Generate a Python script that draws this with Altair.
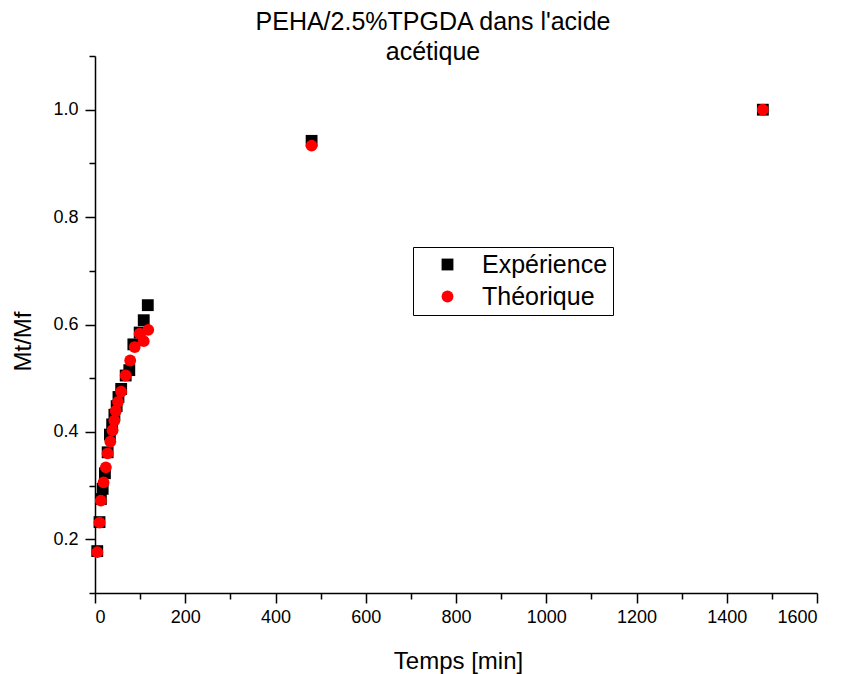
import altair as alt
import pandas as pd

# Swelling kinetics: measured and model fraction Mt/Mf versus time
temps_exp = [5, 10, 13, 17, 22, 28, 33, 38, 43, 48, 52, 58, 68, 76, 85, 99, 108, 117, 480, 1480]
mt_exp = [0.178, 0.232, 0.275, 0.294, 0.323, 0.362, 0.395, 0.414, 0.432, 0.448, 0.465, 0.480,
          0.505, 0.515, 0.563, 0.585, 0.608, 0.636, 0.942, 1.0]

temps_theo = [5, 10, 13, 19, 24, 28, 34, 39, 43, 46, 51, 58, 68, 78, 88, 99, 108, 118, 480, 1480]
mt_theo = [0.176, 0.231, 0.272, 0.306, 0.334, 0.360, 0.382, 0.403, 0.421, 0.439, 0.456, 0.475,
           0.505, 0.533, 0.558, 0.583, 0.569, 0.590, 0.933, 1.0]

series = ["Expérience", "Théorique"]
colors = ["#000000", "#ff0000"]
shapes = ["square", "circle"]

x_ticks = list(range(0, 1700, 100))
y_ticks = [round(0.1 * i, 1) for i in range(1, 12)]

df = pd.concat([
    pd.DataFrame({"t": temps_exp, "m": mt_exp, "serie": series[0]}),
    pd.DataFrame({"t": temps_theo, "m": mt_theo, "serie": series[1]}),
], ignore_index=True)

FONT = "Liberation Sans"

x_axis = alt.Axis(
    values=x_ticks,
    format="d",
    labelExpr="datum.value % 200 === 0 ? datum.label : ''",
    tickSize={"condition": {"test": "datum.value % 200 === 0", "value": 10}, "value": 6},
    labelPadding=5,
    labelFontSize=18,
    title="Temps [min]",
    titleFontSize=24,
    titleX=363,
    titleY=68,
    titleBaseline="middle",
    titleAlign="center",
    grid=False,
)

y_axis = alt.Axis(
    values=y_ticks,
    format=".1f",
    labelExpr="round(datum.value * 10) % 2 === 0 && datum.value < 1.05 && datum.value > 0.15 ? datum.label : ''",
    tickSize={"condition": {"test": "round(datum.value * 10) % 2 === 0", "value": 10}, "value": 6},
    labelPadding=7,
    labelFontSize=18,
    title="Mt/Mf",
    titleFontSize=24,
    titleX=-72,
    titleY=285,
    titleBaseline="middle",
    titleAlign="center",
    grid=False,
)

points = alt.Chart(df).mark_point(filled=True, opacity=1, size=140, strokeWidth=0).encode(
    x=alt.X("t:Q", scale=alt.Scale(domain=[0, 1600], nice=False, zero=False), axis=x_axis),
    y=alt.Y("m:Q", scale=alt.Scale(domain=[0.1, 1.1], nice=False, zero=False), axis=y_axis),
    color=alt.Color(
        "serie:N",
        scale=alt.Scale(domain=series, range=colors),
        legend=alt.Legend(
            title=None,
            orient="none",
            legendX=318,
            legendY=191,
            strokeColor="black",
            fillColor="white",
            padding=5,
            labelFont=FONT,
            labelFontSize=25,
            labelColor="black",
            labelOffset=22,
            symbolOffset=17,
            symbolSize=140,
            symbolStrokeWidth=0,
            rowPadding=6,
        ),
    ),
    shape=alt.Shape("serie:N", scale=alt.Scale(domain=series, range=shapes), legend=None),
)

chart = points.properties(
    width=722,
    height=537,
    autosize=alt.AutoSizeParams(type="none"),
    padding={"left": 95, "top": 56, "right": 26, "bottom": 81},
    title=alt.TitleParams(
        text=["PEHA/2.5%TPGDA dans l'acide", "acétique"],
        font=FONT,
        fontSize=25,
        fontWeight="normal",
        color="black",
        lineHeight=30,
        anchor="middle",
        dx=-23,
        baseline="top",
        offset=-10,
    ),
).configure_view(stroke=None).configure_axis(
    labelFont=FONT,
    titleFont=FONT,
    labelColor="black",
    titleColor="black",
    titleFontWeight="normal",
    domainColor="black",
    domainWidth=1.5,
    tickColor="black",
    tickWidth=1.5,
)

chart.save("out.html", embed_options={"renderer": "svg", "actions": False})
